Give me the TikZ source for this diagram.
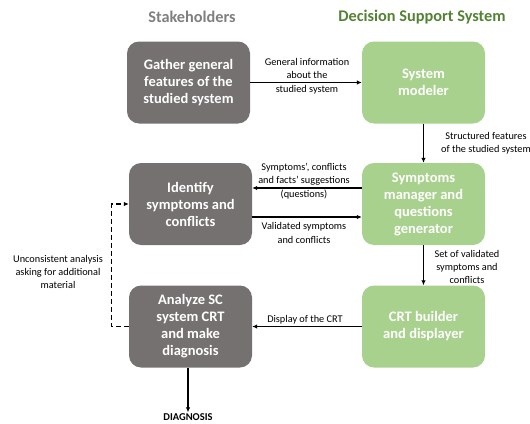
\documentclass[tikz,border=0pt]{standalone}
\usepackage{fontspec}
\setmainfont{Carlito}
\usetikzlibrary{arrows.meta}
\definecolor{boxgray}{HTML}{767171}
\definecolor{boxgreen}{HTML}{A9D18E}
\definecolor{titlegreen}{HTML}{548235}
\definecolor{titlegray}{HTML}{7F7F7F}
\begin{document}
\begin{tikzpicture}[x=1pt,y=-1pt,
  basebox/.style={rounded corners=12pt, minimum width=123pt, minimum height=82pt,
    text=white, font=\fontsize{14.5}{17}\selectfont\bfseries, align=center, inner sep=2pt},
  graybox/.style={basebox, fill=boxgray},
  greenbox/.style={basebox, fill=boxgreen},
  lbl/.style={font=\fontsize{10.3}{13.3}\selectfont, align=center, inner sep=0pt},
  arr/.style={-{Latex[length=5pt,width=4.5pt]}, line width=1.1pt},
  dashline/.style={dash pattern=on 5pt off 3pt, line width=1.2pt, -{Latex[length=5pt,width=4.5pt]}},
  title/.style={font=\fontsize{16.3}{19}\selectfont\bfseries}
]
\useasboundingbox (0,0) rectangle (530,423);

\node[title, text=titlegray] (tstake) at (192,17) {Stakeholders};
\node[title, text=titlegreen] (tdss) at (422,17) {Decision Support System};

\node[graybox] (g1) at (188.5,82.5) {Gather general\\features of the\\studied system};
\node[greenbox] (s1) at (423.5,82.5) {System\\modeler};
\node[graybox] (g2) at (190.5,204) {Identify\\symptoms and\\conflicts};
\node[greenbox] (s2) at (423.5,204) {Symptoms\\manager and\\questions\\generator};
\node[graybox] (g3) at (190.5,326.5) {Analyze SC\\system CRT\\and make\\diagnosis};
\node[greenbox] (s3) at (423.5,326.5) {CRT builder\\and displayer};

\node[font=\fontsize{10.5}{12}\selectfont\bfseries, inner sep=1pt] (diag) at (188,417) {DIAGNOSIS};

\draw[arr] (g1.east) -- (s1.west);
\draw[arr] (s1.south) -- (s2.north);
\draw[arr] ([yshift=16pt]s2.west) -- ([yshift=16pt]g2.east);
\draw[arr] ([yshift=-13pt]g2.east) -- ([yshift=-13pt]s2.west);
\draw[arr] (s2.south) -- (s3.north);
\draw[arr] (s3.west) -- (g3.east);
\draw[arr] (g3.south -| diag.north) -- (diag.north);
\draw[dashline] (g3.west) -- ++(-17,0) |- (g2.west);

\node[lbl] (l1) at (307,76) {General information\\about the\\studied system};
\node[lbl] (l2) at (486,143) {Structured features\\of the studied system};
\node[lbl] (l3) at (304,181) {Symptoms’, conflicts\\and facts’ suggestions\\(questions)};
\node[lbl] (l4) at (304,233) {Validated symptoms\\and conflicts};
\node[lbl] (l5) at (467,267) {Set of validated\\symptoms and\\conflicts};
\node[lbl] (l6) at (305,320) {Display of the CRT};
\node[lbl] (l7) at (58,272) {Unconsistent analysis\\asking for additional\\material};
\end{tikzpicture}
\end{document}
